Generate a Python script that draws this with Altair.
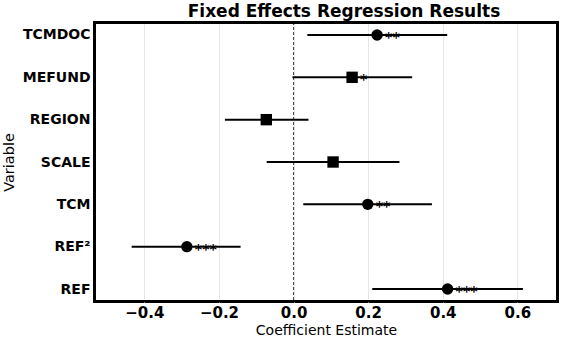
import altair as alt
import pandas as pd

variables = ["TCMDOC", "MEFUND", "REGION", "SCALE", "TCM", "REF²", "REF"]
coef = [0.224, 0.157, -0.073, 0.106, 0.199, -0.286, 0.413]
ci_low = [0.037, -0.003, -0.184, -0.072, 0.026, -0.434, 0.211]
ci_high = [0.412, 0.318, 0.040, 0.284, 0.371, -0.142, 0.615]
stars = ["**", "*", "", "", "**", "***", "***"]
marker = ["circle", "square", "square", "square", "circle", "circle", "circle"]
x_ticks = [-0.4, -0.2, 0.0, 0.2, 0.4, 0.6]
x_range = [-0.535, 0.709]

df = pd.DataFrame({"var": variables, "coef": coef, "lo": ci_low, "hi": ci_high,
                   "stars": stars, "marker": marker})

W, H = 464, 280
xs = alt.Scale(domain=x_range, nice=False, zero=False)
ys = alt.Scale(type="point", domain=variables, padding=0.307)

base = alt.Chart(df)

x_axis = alt.Axis(values=x_ticks, format=".1f", title="Coefficient Estimate",
                  labelFont="DejaVu Sans", labelFontWeight="bold", labelFontSize=15,
                  labelColor="black", labelPadding=3, ticks=False, domain=False,
                  titleFont="DejaVu Sans", titleFontWeight="normal", titleFontSize=14,
                  titleColor="black", titlePadding=3,
                  grid=True, gridColor="#e6e6e6", gridWidth=1)
y_axis = alt.Axis(title="Variable", labelFont="DejaVu Sans", labelFontWeight="bold",
                  labelFontSize=14, labelColor="black", labelPadding=4, ticks=False,
                  domain=False, grid=False,
                  titleFont="DejaVu Sans", titleFontWeight="normal", titleFontSize=14.5,
                  titleColor="black", titlePadding=6)

bars = base.mark_rule(color="black", strokeWidth=2).encode(
    x=alt.X("lo:Q", scale=xs, axis=x_axis),
    x2="hi:Q",
    y=alt.Y("var:N", scale=ys, axis=y_axis, sort=variables),
)

zero = alt.Chart(pd.DataFrame({"z": [0.0]})).mark_rule(
    color="#444444", strokeWidth=1, strokeDash=[3, 2]
).encode(x=alt.X("z:Q", scale=xs))

points = base.mark_point(filled=True, color="black", opacity=1, size=130).encode(
    x=alt.X("coef:Q", scale=xs),
    y=alt.Y("var:N", scale=ys, sort=variables),
    shape=alt.Shape("marker:N", scale=alt.Scale(domain=["circle", "square"],
                                                 range=["circle", "square"]), legend=None),
)

text = base.mark_text(align="left", baseline="alphabetic", dx=8, dy=7,
                      font="DejaVu Sans", fontSize=14, fontWeight="bold",
                      color="black").encode(
    x=alt.X("coef:Q", scale=xs),
    y=alt.Y("var:N", scale=ys, sort=variables),
    text="stars:N",
)

# frame just inside the plot area
fr = alt.Chart(pd.DataFrame({"f": [1]}))
fs = dict(color="black", strokeWidth=2)
frame = [
    fr.mark_rule(**fs).encode(x=alt.value(1), x2=alt.value(W - 1), y=alt.value(1)),
    fr.mark_rule(**fs).encode(x=alt.value(1), x2=alt.value(W - 1), y=alt.value(H - 1)),
    fr.mark_rule(**fs).encode(x=alt.value(1), y=alt.value(0), y2=alt.value(H)),
    fr.mark_rule(**fs).encode(x=alt.value(W - 1), y=alt.value(0), y2=alt.value(H)),
]

chart = alt.layer(zero, bars, points, text, *frame).properties(
    width=W, height=H,
    title=alt.TitleParams("Fixed Effects Regression Results", font="DejaVu Sans",
                          fontSize=17, fontWeight="bold", color="black",
                          anchor="middle", dx=18, offset=0),
    autosize=alt.AutoSizeParams(type="none"),
    padding={"left": 94, "top": 22, "right": 8, "bottom": 37},
    background="white",
).configure_view(stroke="black", strokeWidth=2)

chart.save("out.html", embed_options={"renderer": "svg", "actions": False})
